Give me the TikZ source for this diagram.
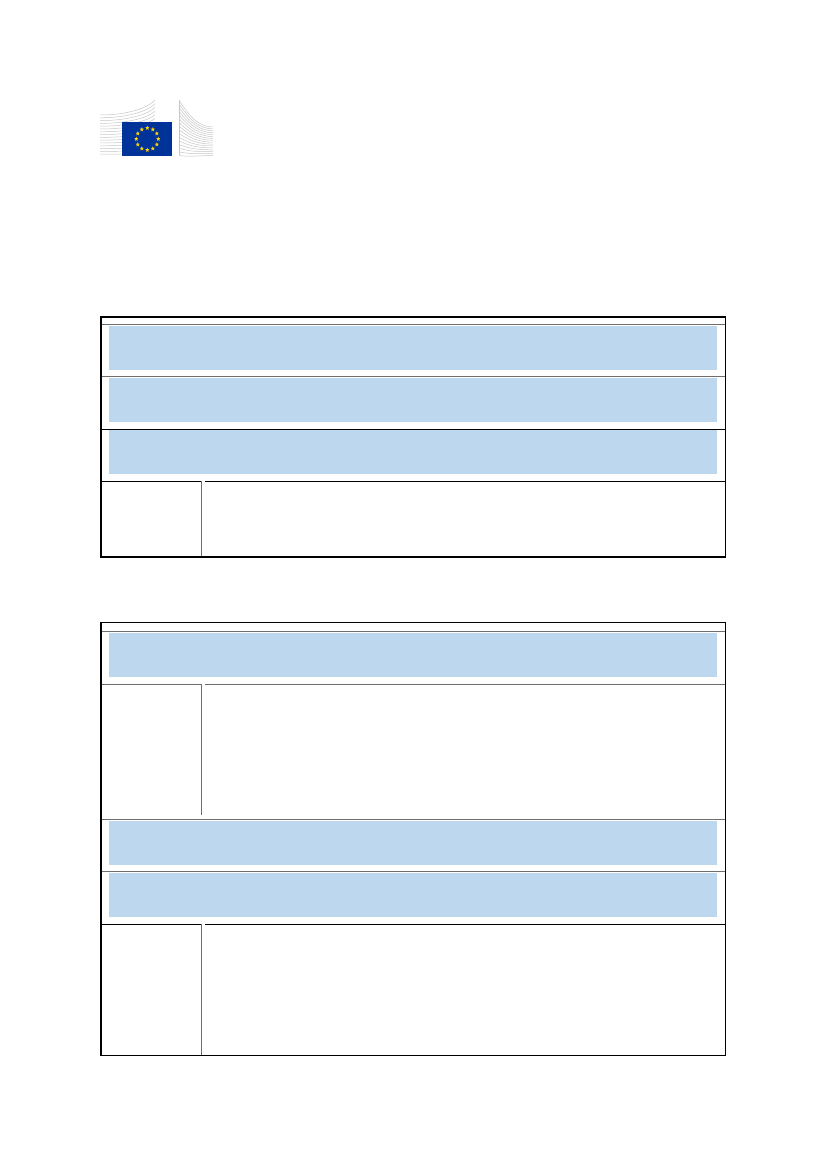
\documentclass[tikz,border=0pt]{standalone}
\usetikzlibrary{shapes.geometric,calc}
\definecolor{barblue}{RGB}{189,215,238}
\definecolor{flagblue}{RGB}{0,51,153}
\definecolor{staryellow}{RGB}{255,214,0}
\definecolor{rulegray}{RGB}{110,110,110}
\tikzset{bar/.style = {fill=barblue, draw=none, rectangle, inner sep=0pt, minimum width=608pt, minimum height=44pt},
         frame/.style = {draw=black, line width=1.4pt},
         rule/.style = {draw=rulegray, line width=1pt},
         darkrule/.style = {draw=black, line width=1pt},
         wing/.style = {draw=gray!45, line width=0.5pt},
         eustar/.style = {star, star points=5, star point ratio=2.4, fill=staryellow, inner sep=0pt, minimum size=4.6pt}}

\begin{document}
\begin{tikzpicture}[x=1pt, y=-1pt]
    \useasboundingbox (0,0) rectangle (827,1169);
    \foreach \i in {0,...,14}
        \draw[wing](100,115+2.8*\i) .. controls (132,115+2.8*\i) and (150,106+3.4*\i) .. (155,100+3.7*\i);
    \foreach \i in {0,...,15}
        \draw[wing](179,100+3.7*\i) .. controls (190,118+2.6*\i) and (200,127+1.9*\i) .. (213,127+1.9*\i);
    \draw[wing](179,100)--(179,155.5);
    \node[fill=flagblue, inner sep=0pt, minimum width=50pt, minimum height=33.4pt](flag)at(147.3,139){};
    \foreach \a in {0,30,...,330}
        \node[eustar]at($(flag.center)+(\a:11)$){};
    \node[bar](a1)at(413.3,347.5){};
    \node[bar](a2)at(413.3,399.7){};
    \node[bar](a3)at(413.3,452){};
    \draw[rule](101,324.3)--(725.5,324.3);
    \draw[rule](101,376.7)--(725.5,376.7);
    \draw[darkrule](101,429)--(725.5,429);
    \draw[darkrule](101,481)--(201,481);
    \draw[darkrule](205,481)--(725.5,481);
    \draw[rule](201,481)--(201,557);
    \draw[frame](101,317) rectangle (725.5,557);
    \node[bar](b1)at(413.3,654.5){};
    \node[bar](b2)at(413.3,842.5){};
    \node[bar](b3)at(413.3,895){};
    \draw[rule](101,631)--(725.5,631);
    \draw[rule](101,684)--(201,684);
    \draw[rule](205,684)--(725.5,684);
    \draw[rule](201,684)--(201,815);
    \draw[rule](101,819)--(725.5,819);
    \draw[rule](101,871.7)--(725.5,871.7);
    \draw[darkrule](101,924)--(201,924);
    \draw[darkrule](205,924)--(725.5,924);
    \draw[rule](201,924)--(201,1055.7);
    \draw[frame](101,622.3) rectangle (725.5,1055.7);
\end{tikzpicture}
\end{document}
